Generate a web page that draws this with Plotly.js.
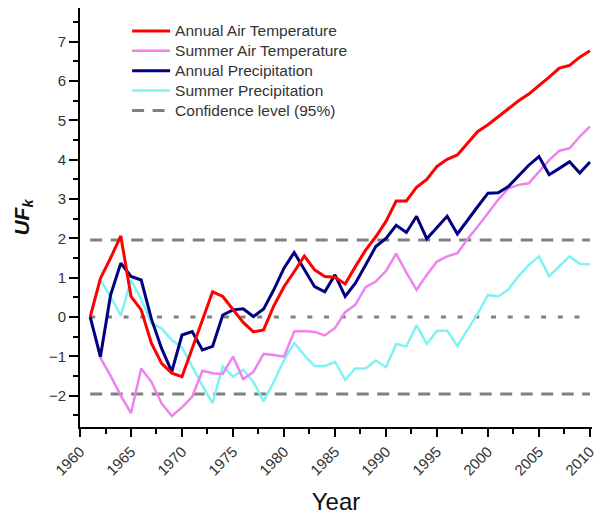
<!DOCTYPE html>
<html>
<head>
<meta charset="utf-8">
<script src="https://cdn.plot.ly/plotly-3.0.1.min.js"></script>
<style>html,body{margin:0;padding:0;background:#fff;}#chart{width:601px;height:520px;}</style>
</head>
<body>
<div id="chart"></div>
<script>
// Years 1961-2010
const years = [1961,1962,1963,1964,1965,1966,1967,1968,1969,1970,
  1971,1972,1973,1974,1975,1976,1977,1978,1979,1980,
  1981,1982,1983,1984,1985,1986,1987,1988,1989,1990,
  1991,1992,1993,1994,1995,1996,1997,1998,1999,2000,
  2001,2002,2003,2004,2005,2006,2007,2008,2009,2010];

const annualAirTemp = [0,0.98,1.5,2.06,0.52,0.18,-0.67,-1.18,-1.43,-1.52,
  -0.8,-0.1,0.64,0.52,0.18,-0.14,-0.38,-0.33,0.28,0.77,
  1.15,1.55,1.2,1.03,1.01,0.84,1.28,1.7,2.04,2.43,
  2.95,2.95,3.3,3.5,3.83,4.01,4.12,4.42,4.72,4.89,
  5.1,5.31,5.5,5.67,5.88,6.1,6.33,6.4,6.61,6.77];

const summerAirTemp = [0,-1.04,-1.5,-2.0,-2.45,-1.31,-1.65,-2.2,-2.52,-2.3,
  -2.03,-1.37,-1.43,-1.45,-1.01,-1.58,-1.4,-0.94,-0.97,-1.01,
  -0.37,-0.36,-0.38,-0.47,-0.28,0.12,0.31,0.76,0.9,1.17,
  1.61,1.13,0.69,1.07,1.41,1.54,1.62,1.98,2.3,2.63,
  2.98,3.27,3.36,3.4,3.7,3.99,4.23,4.29,4.59,4.85];

const annualPrecip = [0,-1.01,0.56,1.37,1.03,0.94,-0.05,-0.8,-1.39,-0.46,
  -0.37,-0.84,-0.75,0.05,0.18,0.21,0.01,0.2,0.69,1.24,
  1.64,1.2,0.77,0.64,1.07,0.52,0.86,1.32,1.79,2.0,
  2.33,2.15,2.56,1.99,2.27,2.56,2.11,2.47,2.81,3.15,
  3.16,3.32,3.58,3.86,4.08,3.62,3.78,3.95,3.66,3.94];

const summerPrecip = [0,0.94,0.52,0.03,0.94,0.45,-0.16,-0.29,-0.59,-0.78,
  -1.26,-1.75,-2.19,-1.26,-1.52,-1.35,-1.65,-2.15,-1.65,-1.1,
  -0.66,-0.97,-1.25,-1.25,-1.14,-1.6,-1.31,-1.31,-1.11,-1.28,
  -0.69,-0.75,-0.21,-0.69,-0.35,-0.35,-0.74,-0.33,0.09,0.56,
  0.52,0.7,1.04,1.32,1.54,1.04,1.28,1.54,1.35,1.34];

const confLevel = 1.96;
const xTickVals = [1960,1965,1970,1975,1980,1985,1990,1995,2000,2005,2010];
const yTickVals = [-2,-1,0,1,2,3,4,5,6,7];

const seriesNames = ["Annual Air Temperature","Summer Air Temperature","Annual Precipitation","Summer Precipitation","Confidence level (95%)"];

const endYears = [years[0], years[years.length-1]];
const font = "Arial, 'Liberation Sans', sans-serif";
const nm = s => '<span style="font-size:15.5px">' + s + '</span>';

const traces = [
  {x: endYears, y: [0,0], mode:'lines', showlegend:false, hoverinfo:'skip',
   line:{color:'#808080', width:3, dash:'5px,11.7px'}},
  {x: endYears, y: [confLevel,confLevel], mode:'lines', name: nm(seriesNames[4]), legendrank:5,
   line:{color:'#808080', width:3, dash:'12px,8.5px'}},
  {x: endYears, y: [-confLevel,-confLevel], mode:'lines', showlegend:false,
   line:{color:'#808080', width:3, dash:'12px,8.5px'}},
  {x: years, y: summerPrecip, mode:'lines', name: nm(seriesNames[3]), legendrank:4,
   line:{color:'#7ff3f3', width:2.5}},
  {x: years, y: summerAirTemp, mode:'lines', name: nm(seriesNames[1]), legendrank:2,
   line:{color:'#ee82ee', width:2.5}},
  {x: years, y: annualPrecip, mode:'lines', name: nm(seriesNames[2]), legendrank:3,
   line:{color:'#000080', width:3}},
  {x: years, y: annualAirTemp, mode:'lines', name: nm(seriesNames[0]), legendrank:1,
   line:{color:'#ff0000', width:3}}
];

const layout = {
  width:601, height:520,
  margin:{l:80, r:9, t:8, b:93},
  paper_bgcolor:'#ffffff', plot_bgcolor:'#ffffff',
  font:{family:font, size:15, color:'#333'},
  showlegend:true,
  legend:{x:0.092, y:0.981, xanchor:'left', yanchor:'top', bgcolor:'rgba(0,0,0,0)',
    font:{family:font, size:13, color:'#333'}, tracegroupgap:0, itemwidth:38},
  xaxis:{range:[1960,2010.2], tickvals:xTickVals, ticktext:xTickVals.map(String),
    tickangle:-45, ticks:'outside', ticklen:8, tickwidth:2, tickcolor:'#000',
    minor:{dtick:2.5, tick0:1960, ticks:'outside', ticklen:5, tickwidth:2, tickcolor:'#000', showgrid:false},
    showline:true, linecolor:'#000', linewidth:2, showgrid:false, zeroline:false,
    tickfont:{family:font, size:15, color:'#333'},
    title:{text:'Year', font:{family:font, size:24, color:'#111'}, standoff:16}},
  yaxis:{range:[-2.8,7.86], tickvals:yTickVals, ticks:'outside', ticklen:9, tickwidth:2, tickcolor:'#000',
    minor:{dtick:0.5, tick0:0, ticks:'outside', ticklen:5, tickwidth:2, tickcolor:'#000', showgrid:false},
    showline:true, linecolor:'#000', linewidth:2, showgrid:false, zeroline:false,
    tickfont:{family:font, size:15, color:'#333'},
    title:{text:'<b><i>UF</i></b><sub><b><i>k</i></b></sub>', font:{family:font, size:21, color:'#111'}, standoff:14}}
};

Plotly.newPlot('chart', traces, layout, {displayModeBar:false, staticPlot:true});
</script>
</body>
</html>
